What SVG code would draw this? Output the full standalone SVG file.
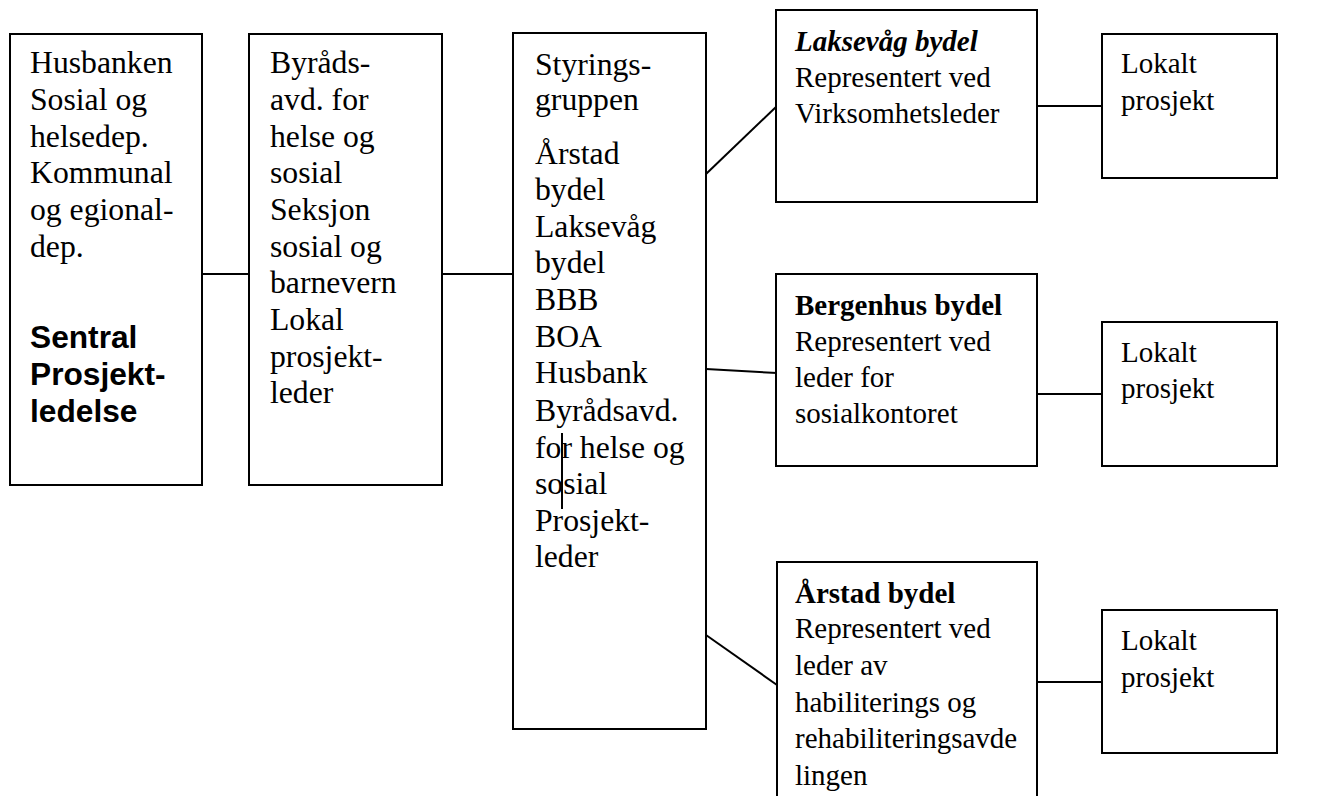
<svg xmlns="http://www.w3.org/2000/svg" width="1337" height="796" viewBox="0 0 1337 796">
<style>
rect.box{fill:#fff;stroke:#000;stroke-width:2}
.conn line{stroke:#000;stroke-width:2}
text{font-family:"Liberation Serif","Times New Roman",serif;fill:#000}
.l{font-size:31.7px}
.r{font-size:29px}
.ab{font-family:"Liberation Sans",Arial,sans-serif;font-weight:bold;font-size:31.7px}
.b{font-weight:bold}
.bi{font-weight:bold;font-style:italic}
</style>
<rect width="1337" height="796" fill="#fff"/>
<g id="connectors" class="conn">
<line x1="202" y1="274" x2="249" y2="274"/>
<line x1="442" y1="274" x2="513" y2="274"/>
<line x1="706" y1="174" x2="777" y2="106"/>
<line x1="706" y1="369" x2="777" y2="373"/>
<line x1="706" y1="635" x2="777" y2="685"/>
<line x1="1037" y1="106" x2="1102" y2="106"/>
<line x1="1037" y1="394" x2="1102" y2="394"/>
<line x1="1037" y1="682" x2="1102" y2="682"/>
</g>
<g id="node-sentral">
<rect class="box" x="10" y="34" width="192" height="451"/>
<text class="l" x="30">
<tspan x="30" y="73.3">Husbanken</tspan>
<tspan x="30" y="110">Sosial og</tspan>
<tspan x="30" y="146.7">helsedep.</tspan>
<tspan x="30" y="183.3">Kommunal</tspan>
<tspan x="30" y="220">og egional-</tspan>
<tspan x="30" y="256.7">dep.</tspan>
</text>
<text class="ab">
<tspan x="30" y="348.3">Sentral</tspan>
<tspan x="30" y="385">Prosjekt-</tspan>
<tspan x="30" y="421.7">ledelse</tspan>
</text>
</g>
<g id="node-byrad">
<rect class="box" x="249" y="34" width="193" height="451"/>
<text class="l">
<tspan x="270" y="73.3">Byråds-</tspan>
<tspan x="270" y="110">avd. for</tspan>
<tspan x="270" y="146.7">helse og</tspan>
<tspan x="270" y="183.3">sosial</tspan>
<tspan x="270" y="220">Seksjon</tspan>
<tspan x="270" y="256.7">sosial og</tspan>
<tspan x="270" y="293.3">barnevern</tspan>
<tspan x="270" y="330">Lokal</tspan>
<tspan x="270" y="366.7">prosjekt-</tspan>
<tspan x="270" y="403.3">leder</tspan>
</text>
</g>
<g id="node-styring">
<rect class="box" x="513" y="33" width="193" height="696"/>
<text class="l">
<tspan x="535" y="74.6">Styrings-</tspan>
<tspan x="535" y="110.4">gruppen</tspan>
<tspan x="535" y="163.5">Årstad</tspan>
<tspan x="535" y="200">bydel</tspan>
<tspan x="535" y="236.7">Laksevåg</tspan>
<tspan x="535" y="273.3">bydel</tspan>
<tspan x="535" y="310">BBB</tspan>
<tspan x="535" y="346.7">BOA</tspan>
<tspan x="535" y="383.3">Husbank</tspan>
<tspan x="535" y="420.5">Byrådsavd.</tspan>
<tspan x="535" y="457.5">for helse og</tspan>
<tspan x="535" y="494">sosial</tspan>
<tspan x="535" y="530.5">Prosjekt-</tspan>
<tspan x="535" y="567">leder</tspan>
</text>
<line x1="562" y1="433" x2="562" y2="509" stroke="#000" stroke-width="2"/>
</g>
<g id="node-laksevag">
<rect class="box" x="776" y="10" width="261" height="192"/>
<text class="r">
<tspan x="795" y="50.7" class="bi">Laksevåg bydel</tspan>
<tspan x="795" y="87">Representert ved</tspan>
<tspan x="795" y="123.3">Virksomhetsleder</tspan>
</text>
</g>
<g id="node-lokalt1">
<rect class="box" x="1102" y="34" width="175" height="144"/>
<text class="r">
<tspan x="1121" y="73.3">Lokalt</tspan>
<tspan x="1121" y="110">prosjekt</tspan>
</text>
</g>
<g id="node-bergenhus">
<rect class="box" x="776" y="274" width="261" height="192"/>
<text class="r">
<tspan x="795" y="315" class="b">Bergenhus bydel</tspan>
<tspan x="795" y="350.7">Representert ved</tspan>
<tspan x="795" y="386.7">leder for</tspan>
<tspan x="795" y="423.3">sosialkontoret</tspan>
</text>
</g>
<g id="node-lokalt2">
<rect class="box" x="1102" y="322" width="175" height="144"/>
<text class="r">
<tspan x="1121" y="361.7">Lokalt</tspan>
<tspan x="1121" y="398.3">prosjekt</tspan>
</text>
</g>
<g id="node-arstad">
<rect class="box" x="777" y="562" width="260" height="250"/>
<text class="r">
<tspan x="795" y="602.7" class="b">Årstad bydel</tspan>
<tspan x="795" y="638.3">Representert ved</tspan>
<tspan x="795" y="675">leder av</tspan>
<tspan x="795" y="711.7">habiliterings og</tspan>
<tspan x="795" y="748.3">rehabiliteringsavde</tspan>
<tspan x="795" y="785">lingen</tspan>
</text>
</g>
<g id="node-lokalt3">
<rect class="box" x="1102" y="610" width="175" height="143"/>
<text class="r">
<tspan x="1121" y="650">Lokalt</tspan>
<tspan x="1121" y="686.7">prosjekt</tspan>
</text>
</g>
</svg>
